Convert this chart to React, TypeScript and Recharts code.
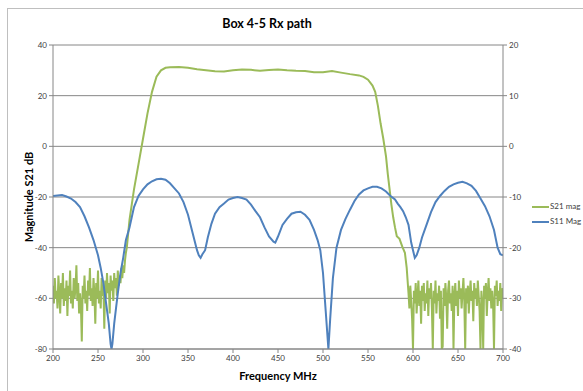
import { LineChart, Line, XAxis, YAxis, CartesianGrid } from 'recharts';

const freqTicks = [200, 250, 300, 350, 400, 450, 500, 550, 600, 650, 700];
const s21Ticks = [-80, -60, -40, -20, 0, 20, 40];
const s11Ticks = [-40, -30, -20, -10, 0, 10, 20];

// S21 noise floor below the passband, one reading per MHz from 200 MHz
const s21LowStart = 200;
const s21Low = [
  -55, -62, -52, -60, -57, -64, -51, -58, -66, -54,
  -60, -50, -63, -56, -61, -53, -67, -55, -59, -49,
  -62, -57, -64, -52, -60, -56, -47, -61, -54, -66,
  -58, -63, -77, -55, -60, -51, -62, -57, -65, -53,
  -59, -48, -61, -56, -63, -52, -58, -70, -54, -60,
  -49, -62, -57, -64, -52, -59, -55, -72, -53, -60,
  -50, -58, -54, -66, -51, -57, -53, -61, -50, -56,
  -52, -59, -49, -55, -51, -54, -48, -52, -47, -50,
  -45, -42,
];

// S21 skirts and passband
const s21PassFreq = [
  282, 285, 290, 295, 300, 305, 310, 315, 320, 325, 330, 340, 350, 360, 370, 380,
  390, 400, 410, 420, 430, 440, 450, 460, 470, 480, 490, 500, 510, 520, 530, 540,
  545, 550, 555, 558, 561, 564, 567, 570, 572, 574, 576, 578, 580, 582, 585, 588,
  591, 593,
];
const s21PassMag = [
  -40, -29, -17, -7, 3, 13, 21.5, 27.5, 30, 31, 31.2, 31.3, 31, 30.4, 30, 29.6,
  29.5, 30, 30.3, 30.2, 29.8, 30.1, 30.3, 30, 29.8, 29.7, 29.2, 29.2, 29.7, 29.1, 28.5, 28,
  27.4, 26.3, 24, 21.5, 16, 9, 3, -4, -11, -17, -23, -28, -32, -35.5, -36.5, -39.5,
  -42, -48,
];

// S21 noise floor above the passband, one reading per MHz from 595 MHz
const s21HighStart = 595;
const s21High = [
  -58, -64, -55, -61, -68, -80, -57, -62, -54, -66,
  -59, -53, -63, -57, -70, -55, -61, -54, -65, -58,
  -62, -53, -67, -56, -60, -54, -64, -80, -57, -62,
  -53, -66, -58, -61, -55, -68, -57, -80, -79, -56,
  -63, -54, -60, -72, -57, -53, -62, -58, -65, -55,
  -80, -59, -54, -63, -57, -67, -53, -60, -56, -64,
  -58, -52, -61, -80, -56, -62, -55, -66, -58, -53,
  -61, -57, -69, -54, -60, -56, -63, -53, -59, -65,
  -80, -57, -62, -80, -55, -60, -54, -67, -58, -52,
  -61, -56, -64, -57, -62, -80, -55, -59, -53, -63,
  -57, -61, -54, -65, -56, -60,
];

// S11 on the secondary axis
const s11Freq = [
  200, 205, 210, 215, 220, 225, 230, 235, 240, 245, 250, 253, 256, 259, 262, 264,
  265, 266, 268, 270, 272, 275, 278, 281, 285, 290, 295, 300, 305, 310, 315, 320,
  325, 330, 335, 340, 345, 350, 355, 360, 362, 364, 366, 369, 372, 376, 380, 385,
  390, 395, 400, 405, 410, 415, 420, 425, 430, 435, 440, 445, 447, 450, 455, 460,
  465, 470, 475, 480, 485, 490, 494, 497, 500, 503, 506, 508, 511, 515, 520, 525,
  530, 535, 540, 545, 550, 555, 560, 565, 570, 575, 580, 583, 586, 589, 592, 595,
  598, 600, 602, 604, 607, 610, 615, 620, 625, 630, 635, 640, 645, 650, 655, 660,
  665, 670, 675, 680, 685, 690, 694, 697, 700,
];
const s11Mag = [
  -9.8, -9.7, -9.6, -9.9, -10.3, -11, -12, -13.8, -16, -18.5, -21.5, -24, -27, -31, -35, -39,
  -40, -39, -35, -32, -29, -25, -22, -18.5, -16, -12, -9.8, -8.5, -7.5, -6.9, -6.5, -6.4,
  -6.6, -7.3, -8.3, -9.3, -11, -13.5, -17, -20.5, -21.5, -22, -21.3, -20.5, -18, -15.3, -13.3, -12,
  -11.3, -10.5, -10.2, -10, -10.2, -10.5, -11.5, -12.8, -14, -16, -17.8, -18.8, -19, -17.8, -15.5, -14.3,
  -13.3, -13, -12.9, -13.5, -14.5, -16.5, -18.5, -20.5, -25, -32.5, -40, -34, -26, -20, -16.5, -14.3,
  -12.5, -10.8, -9.5, -8.7, -8.3, -8, -8, -8.3, -8.9, -9.8, -10.5, -11.3, -12, -12.8, -14, -15.5,
  -19, -20.5, -22, -21.5, -20, -18, -15.5, -13, -11, -9.8, -8.8, -8, -7.5, -7.2, -7, -7.3,
  -7.8, -8.8, -10.3, -11.8, -13.8, -16.5, -20, -21.3, -21.5,
];

const s21Data = [
  ...s21Low.map((v, i) => ({ f: s21LowStart + i, s21: v })),
  ...s21PassFreq.map((f, i) => ({ f, s21: s21PassMag[i] })),
  ...s21High.map((v, i) => ({ f: s21HighStart + i, s21: v })),
];
const s11Data = s11Freq.map((f, i) => ({ f, s11: s11Mag[i] }));

const GREEN = '#9bbb59';
const BLUE = '#4f81bd';
const AXIS = '#868686';
const tickStyle = { fill: '#404040', fontSize: 8, fontFamily: 'Lato' };

export default function App() {
  return (
    <div style={{ position: 'absolute', left: 0, top: 0, width: 583, height: 391, background: '#fff', overflow: 'hidden', fontFamily: 'Lato' }}>
      <div style={{ position: 'absolute', left: 7, top: 8, width: 600, height: 400, border: '1px solid #bfbfbf' }} />
      <div style={{ position: 'absolute', left: 0, width: 534, top: 16, textAlign: 'center', fontSize: 12.5, fontWeight: 'bold', color: '#000' }}>
        Box 4-5 Rx path
      </div>
      <div style={{ position: 'absolute', left: 28, top: 197, transform: 'translate(-50%, -50%) rotate(-90deg)', whiteSpace: 'nowrap', fontSize: 11, fontWeight: 'bold' }}>
        Magnitude S21 dB
      </div>
      <div style={{ position: 'absolute', left: 278, top: 375, transform: 'translate(-50%, -50%)', whiteSpace: 'nowrap', fontSize: 11, fontWeight: 'bold' }}>
        Frequency MHz
      </div>
      <div style={{ position: 'absolute', left: 532, top: 199, fontSize: 8, color: '#404040', lineHeight: '15px' }}>
        <div style={{ display: 'flex', alignItems: 'center' }}>
          <span style={{ display: 'inline-block', width: 17, height: 2, background: GREEN, marginRight: 1 }} />S21 mag
        </div>
        <div style={{ display: 'flex', alignItems: 'center' }}>
          <span style={{ display: 'inline-block', width: 17, height: 2, background: BLUE, marginRight: 1 }} />S11 Mag
        </div>
      </div>
      <LineChart width={583} height={391} margin={{ top: 45, right: 50, bottom: 27, left: 0 }} style={{ position: 'absolute', left: 0, top: 0 }}>
        <CartesianGrid yAxisId="left" vertical={false} stroke={AXIS} strokeWidth={1} />
        <XAxis
          dataKey="f"
          type="number"
          domain={[200, 700]}
          ticks={freqTicks}
          allowDataOverflow
          stroke={AXIS}
          tick={tickStyle}
          tickSize={4}
          height={15}
        />
        <YAxis
          yAxisId="left"
          domain={[-80, 40]}
          ticks={s21Ticks}
          allowDataOverflow
          stroke={AXIS}
          tick={tickStyle}
          tickSize={4}
          width={53}
        />
        <YAxis
          yAxisId="right"
          orientation="right"
          domain={[-40, 20]}
          ticks={s11Ticks}
          allowDataOverflow
          stroke={AXIS}
          tick={tickStyle}
          tickSize={4}
          width={30}
        />
        <Line
          yAxisId="left"
          data={s21Data}
          dataKey="s21"
          type="linear"
          stroke={GREEN}
          strokeWidth={2}
          dot={false}
          isAnimationActive={false}
        />
        <Line
          yAxisId="right"
          data={s11Data}
          dataKey="s11"
          type="linear"
          stroke={BLUE}
          strokeWidth={2}
          dot={false}
          isAnimationActive={false}
        />
      </LineChart>
    </div>
  );
}
